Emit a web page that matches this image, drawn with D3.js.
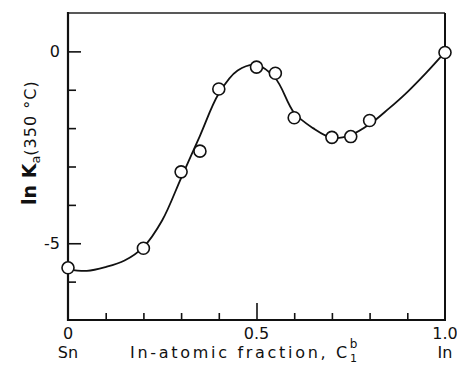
<!DOCTYPE html>
<html>
<head>
<meta charset="utf-8">
<script src="https://cdn.jsdelivr.net/npm/d3@7"></script>
<style>
  body { margin: 0; background: #fff; }
  svg { display: block; }
  text { font-family: "DejaVu Sans", sans-serif; fill: #111; }
</style>
</head>
<body>
<svg></svg>
<script>
// measured points, ln Ka at 350 C
const fraction = [0, 0.2, 0.3, 0.35, 0.4, 0.5, 0.55, 0.6, 0.7, 0.75, 0.8, 1.0];
const lnKa = [-5.64, -5.13, -3.14, -2.6, -0.98, -0.41, -0.57, -1.73, -2.24, -2.22, -1.8, -0.03];

// smooth fitted curve
const curveX = [0, 0.05, 0.1, 0.15, 0.2, 0.25, 0.3, 0.35, 0.4, 0.45, 0.5, 0.55, 0.6, 0.65, 0.7, 0.75, 0.8, 0.85, 0.9, 0.95, 1.0];
const curveY = [-5.68, -5.72, -5.62, -5.45, -5.1, -4.4, -3.3, -2.2, -1.1, -0.5, -0.36, -0.7, -1.6, -2.0, -2.25, -2.18, -1.9, -1.5, -1.06, -0.56, -0.02];

const xMajor = [0, 0.5, 1.0];
const xMinor = [0.1, 0.2, 0.3, 0.4, 0.6, 0.7, 0.8, 0.9];
const xEndNames = ["Sn", "In"];
const yMajor = [0, -5];
const yMinor = [-1, -2, -3, -4, -6];

const W = 457, H = 366;
const svg = d3.select("svg").attr("width", W).attr("height", H);

const x = d3.scaleLinear().domain([0, 1]).range([68, 445]);
const y = d3.scaleLinear().domain([-7, 1]).range([320, 13]);

// frame
svg.append("line").attr("x1", 68).attr("x2", 445).attr("y1", 13).attr("y2", 13)
    .attr("stroke", "#222").attr("stroke-width", 1.5);
svg.append("line").attr("x1", 445).attr("x2", 445).attr("y1", 13).attr("y2", 320)
    .attr("stroke", "#111").attr("stroke-width", 2);

// bottom axis, ticks pointing inward
let gx = svg.append("g").attr("transform", "translate(0,320)");
gx.call(d3.axisBottom(x).tickValues(xMinor).tickSize(-7).tickFormat(""));
gx.append("g").call(d3.axisBottom(x).tickValues([0.5]).tickSize(-17).tickFormat(""));
gx.selectAll(".domain").remove();
gx.selectAll("line").attr("stroke", "#111").attr("stroke-width", 1.6);
svg.append("line").attr("x1", 67).attr("x2", 446).attr("y1", 320).attr("y2", 320)
    .attr("stroke", "#111").attr("stroke-width", 2.2);

// left axis
let gy = svg.append("g").attr("transform", "translate(68,0)");
gy.call(d3.axisLeft(y).tickValues(yMinor).tickSize(-8).tickFormat(""));
gy.append("g").call(d3.axisLeft(y).tickValues(yMajor).tickSize(-13).tickFormat(""));
gy.selectAll(".domain").remove();
gy.selectAll("line").attr("stroke", "#111").attr("stroke-width", 1.6);
svg.append("line").attr("x1", 68).attr("x2", 68).attr("y1", 12).attr("y2", 321)
    .attr("stroke", "#111").attr("stroke-width", 2.2);

// tick labels
svg.selectAll(".xl").data(xMajor).enter().append("text")
    .attr("x", d => x(d)).attr("y", 339)
    .attr("text-anchor", "middle").attr("font-size", 16)
    .text(d => d === 0 ? "0" : d.toFixed(1));
svg.selectAll(".xn").data(xEndNames).enter().append("text")
    .attr("x", (d, i) => x(i)).attr("y", 358)
    .attr("text-anchor", "middle").attr("font-size", 16)
    .text(d => d);
svg.selectAll(".yl").data(yMajor).enter().append("text")
    .attr("x", 60).attr("y", d => y(d) + 6)
    .attr("text-anchor", "end").attr("font-size", 16)
    .text(d => d === 0 ? "0" : "-" + Math.abs(d));

// x title
let xt = svg.append("text").attr("x", 130).attr("y", 358).attr("font-size", 16)
    .attr("letter-spacing", 2.7);
xt.append("tspan").text("In-atomic fraction,  C");
xt.append("tspan").attr("font-size", 11).attr("dy", 4).text("1");
xt.append("tspan").attr("font-size", 12).attr("dx", -10).attr("dy", -14).text("b");

// y title
let yt = svg.append("text").attr("transform", "translate(36,205) rotate(-90)")
    .attr("font-size", 19);
yt.append("tspan").attr("font-weight", "bold").text("ln K");
yt.append("tspan").attr("font-size", 13).attr("dy", 4).text("a");
yt.append("tspan").attr("font-size", 16).attr("dy", -4).attr("letter-spacing", 1).text("(350 °C)");

// fitted curve
const line = d3.line().x(d => x(d[0])).y(d => y(d[1])).curve(d3.curveCatmullRom.alpha(0.5));
svg.append("path").datum(d3.zip(curveX, curveY)).attr("d", line)
    .attr("fill", "none").attr("stroke", "#111").attr("stroke-width", 1.8);

// measured points
svg.selectAll(".pt").data(d3.zip(fraction, lnKa)).enter().append("circle")
    .attr("cx", d => x(d[0])).attr("cy", d => y(d[1])).attr("r", 6)
    .attr("fill", "#fff").attr("stroke", "#111").attr("stroke-width", 1.6);
</script>
</body>
</html>
